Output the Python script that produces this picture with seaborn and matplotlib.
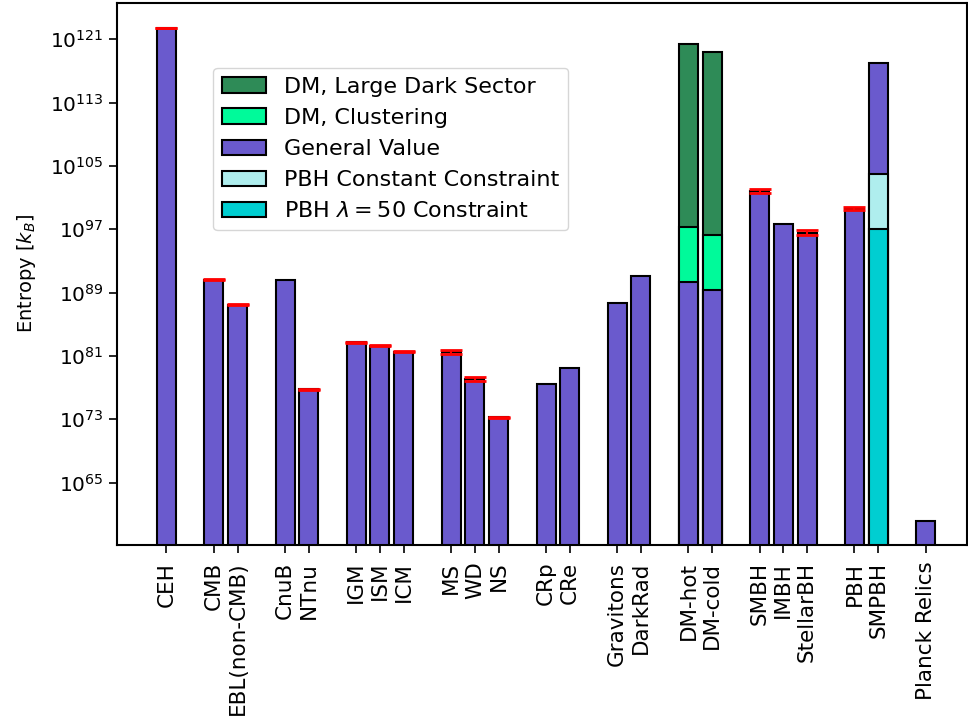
import numpy as np
import pandas as pd
import matplotlib
matplotlib.use("Agg")
import matplotlib.pyplot as plt
from matplotlib.patches import Patch
import seaborn as sns

# ---- data (log10 of entropy in k_B) ----
labels = ['CEH', 'CMB', 'EBL(non-CMB)', 'CnuB', 'NTnu', 'IGM', 'ISM', 'ICM',
          'MS', 'WD', 'NS', 'CRp', 'CRe', 'Gravitons', 'DarkRad',
          'DM-hot', 'DM-cold', 'SMBH', 'IMBH', 'StellarBH', 'PBH', 'SMPBH',
          'Planck Relics']
positions = [0, 2, 3, 5, 6, 8, 9, 10, 12, 13, 14, 16, 17, 19, 20,
             22, 23, 25, 26, 27, 29, 30, 32]
general_log = [122.43, 90.64, 87.48, 90.64, 76.77, 82.75, 82.29, 81.54,
               81.50, 78.07, 73.23, 77.40, 79.42, 87.73, 91.06,
               90.34, 89.38, 101.85, 97.64, 96.59, 99.62, 118.0, 60.2]
err_log = [0.05, 0.05, 0.05, 0.0, 0.05, 0.05, 0.05, 0.05,
           0.30, 0.28, 0.05, 0.0, 0.0, 0.0, 0.0,
           0.0, 0.0, 0.25, 0.0, 0.30, 0.18, 0.0, 0.0]

dm_positions = [22, 23]
dm_large_log = [120.44, 119.43]
dm_cluster_log = [97.30, 96.33]

pbh_positions = [30]
pbh_const_log = [103.96]
pbh_l50_log = [97.0]

ytick_exps = [65, 73, 81, 89, 97, 105, 113, 121]

c_large = '#2E8B57'
c_clust = '#00FA9A'
c_gen = '#6A5ACD'
c_const = '#AFEEEE'
c_l50 = '#00CED1'

plt.rcParams['font.family'] = ['DejaVu Sans']
plt.rcParams['mathtext.fontset'] = 'dejavusans'

fig = plt.figure(figsize=(9.68, 7.24), dpi=100)
ax = fig.add_axes([0.1209, 0.2472, 0.878, 0.7491])
ax.set_yscale('log')

kw = dict(edgecolor='black', linewidth=1.5, native_scale=True, ax=ax,
          errorbar=None, width=0.8, saturation=1)

gen_df = pd.DataFrame({'pos': positions, 'val': 10.0 ** np.array(general_log)})
dm_df = pd.DataFrame({'pos': dm_positions,
                      'large': 10.0 ** np.array(dm_large_log),
                      'clust': 10.0 ** np.array(dm_cluster_log)})
pbh_df = pd.DataFrame({'pos': pbh_positions,
                       'const': 10.0 ** np.array(pbh_const_log),
                       'l50': 10.0 ** np.array(pbh_l50_log)})

# stacked look via overlay (tallest first)
sns.barplot(data=dm_df, x='pos', y='large', color=c_large, **kw)
sns.barplot(data=dm_df, x='pos', y='clust', color=c_clust, **kw)
sns.barplot(data=gen_df, x='pos', y='val', color=c_gen, **kw)
sns.barplot(data=pbh_df, x='pos', y='const', color=c_const, **kw)
sns.barplot(data=pbh_df, x='pos', y='l50', color=c_l50, **kw)

# red error bars
gl = np.array(general_log)
el = np.array(err_log)
mask = el > 0
vals = 10.0 ** gl[mask]
lo = vals - 10.0 ** (gl[mask] - el[mask])
hi = 10.0 ** (gl[mask] + el[mask]) - vals
ax.errorbar(np.array(positions)[mask], vals, yerr=[lo, hi], fmt='none',
            ecolor='red', elinewidth=1.5, capsize=8, capthick=2, zorder=5)

ax.set_xlim(-2.08, 33.74)
ax.set_ylim(10 ** 57.12, 10 ** 125.63)
ax.set_yticks([10.0 ** e for e in ytick_exps])
ax.set_yticklabels([r'$10^{%d}$' % e for e in ytick_exps], fontsize=14.5)
ax.yaxis.set_minor_locator(matplotlib.ticker.NullLocator())
ax.set_xticks(positions)
ax.set_xticklabels(labels, rotation=90, fontsize=15.5)
ax.set_xlabel('')
ax.set_ylabel(r'Entropy [$k_B$]', fontsize=14, labelpad=9)
for s in ax.spines.values():
    s.set_linewidth(1.5)
    s.set_color('black')
ax.tick_params(axis='y', width=1.2, length=6, color='black', labelcolor='black')
ax.tick_params(axis='x', width=1.2, length=6, pad=6, color='black', labelcolor='black')

handles = [Patch(facecolor=c_large, edgecolor='black', linewidth=1.5, label='DM, Large Dark Sector'),
           Patch(facecolor=c_clust, edgecolor='black', linewidth=1.5, label='DM, Clustering'),
           Patch(facecolor=c_gen, edgecolor='black', linewidth=1.5, label='General Value'),
           Patch(facecolor=c_const, edgecolor='black', linewidth=1.5, label='PBH Constant Constraint'),
           Patch(facecolor=c_l50, edgecolor='black', linewidth=1.5, label=r'PBH $\lambda = 50$ Constraint')]
ax.legend(handles=handles, loc='upper left', bbox_to_anchor=(0.113, 0.8796),
          borderaxespad=0, fontsize=16, frameon=True)

fig.savefig('out.png', dpi=100)
